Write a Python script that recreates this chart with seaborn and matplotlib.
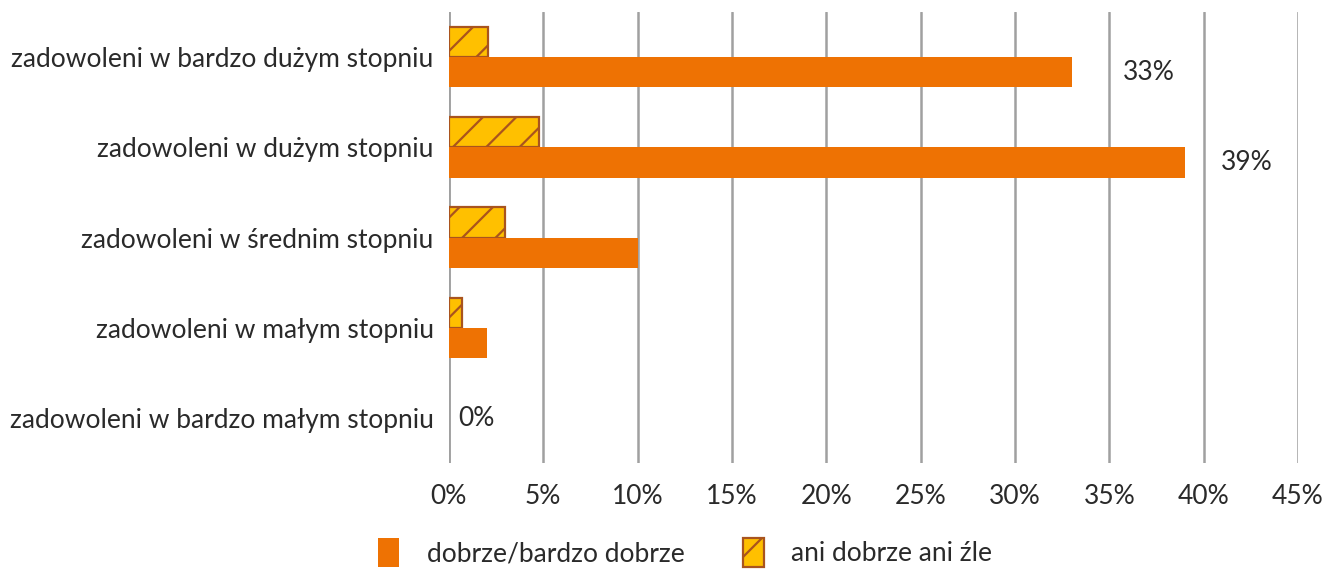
import pandas as pd
import numpy as np
import matplotlib.pyplot as plt
import seaborn as sns
from matplotlib.patches import Patch
from matplotlib.ticker import FuncFormatter

# Dane
kategorie = ['zadowoleni w bardzo dużym stopniu',
             'zadowoleni w dużym stopniu',
             'zadowoleni w średnim stopniu',
             'zadowoleni w małym stopniu',
             'zadowoleni w bardzo małym stopniu']
dobrze = [33, 39, 10, 2, 0]
ani = [2.1, 4.8, 3.0, 0.7, 0]
etykiety_dobrze = ['33%', '39%', None, None, '0%']
przesuniecie_x = [2.7, 1.9, 0, 0, 0.5]
przesuniecie_y = [0.17, 0.17, 0, 0, 0.0]

seria_dobrze = 'dobrze/bardzo dobrze'
seria_ani = 'ani dobrze ani źle'

df = pd.DataFrame({
    'kategoria': kategorie * 2,
    'wartosc': dobrze + ani,
    'seria': [seria_dobrze] * len(kategorie) + [seria_ani] * len(kategorie),
})

POMARANCZ = '#EE7203'
ZOLTY = '#FFC000'
BRAZ = '#A9541E'
SZARY = '#A0A0A0'
TEKST = '#2A2A2A'
FS = 19

sns.set_style('white')
plt.rcParams['font.family'] = ['Lato', 'DejaVu Sans']
plt.rcParams['hatch.linewidth'] = 1.6

fig = plt.figure(figsize=(13.28, 5.69), dpi=100)
ax = fig.add_axes([0.338, 0.186, 0.6394, 0.793])

sns.barplot(data=df, x='wartosc', y='kategoria', hue='seria',
            hue_order=[seria_ani, seria_dobrze], order=kategorie,
            palette={seria_ani: ZOLTY, seria_dobrze: POMARANCZ},
            orient='h', width=0.67, saturation=1, ax=ax, legend=False)

# styl słupków "ani dobrze ani źle"
for cont in ax.containers:
    for bar in cont:
        if bar.get_width() == 0:
            bar.set_visible(False)
        elif bar.get_facecolor()[:3] == plt.matplotlib.colors.to_rgb(ZOLTY):
            bar.set_hatch('/')
            bar.set_edgecolor(BRAZ)
            bar.set_linewidth(1.6)
        else:
            bar.set_linewidth(0)

# etykiety danych
for i, (v, t, dx, dy) in enumerate(zip(dobrze, etykiety_dobrze, przesuniecie_x, przesuniecie_y)):
    if t is not None:
        ax.text(v + dx, i + dy, t, ha='left', va='center', fontsize=FS, color=TEKST)

ax.set_xlim(0, 45)
ax.set_ylim(4.5, -0.5)
ax.set_xticks(np.arange(0, 46, 5))
ax.xaxis.set_major_formatter(FuncFormatter(lambda x, p: f'{int(x)}%'))
ax.grid(axis='x', color=SZARY, linewidth=1.8)
ax.grid(axis='y', visible=False)
ax.set_axisbelow(True)
for s in ax.spines.values():
    s.set_visible(False)
ax.axvline(0, color=SZARY, linewidth=1.8, zorder=0.5)
ax.set_xlabel('')
ax.set_ylabel('')
ax.tick_params(axis='x', length=0, pad=15, labelsize=FS, labelcolor=TEKST)
ax.tick_params(axis='y', length=0, pad=11, labelsize=FS, labelcolor=TEKST)

uchwyty = [Patch(facecolor=POMARANCZ, edgecolor='none', label=seria_dobrze),
           Patch(facecolor=ZOLTY, edgecolor=BRAZ, hatch='/', linewidth=1.6, label=seria_ani)]
fig.legend(handles=uchwyty, loc='lower center', bbox_to_anchor=(0.516, -0.038), ncol=2,
           frameon=False, fontsize=FS, handlelength=0.8, handleheight=1.3,
           handletextpad=1.05, columnspacing=2.2, labelcolor=TEKST)

plt.savefig('out.png', dpi=100)
plt.close()
